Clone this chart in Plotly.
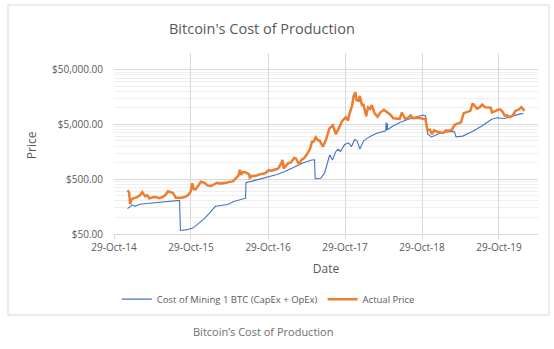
import plotly.graph_objects as go

# Actual BTC price (USD)
price_dates = [
    "2015-01-01", "2015-01-08", "2015-01-14", "2015-01-20", "2015-02-01", "2015-02-15",
    "2015-03-01", "2015-03-12", "2015-03-25", "2015-04-05", "2015-04-15", "2015-05-01",
    "2015-05-15", "2015-06-01", "2015-06-15", "2015-07-01", "2015-07-12", "2015-07-25",
    "2015-08-05", "2015-08-18", "2015-09-01", "2015-09-15", "2015-10-01", "2015-10-15",
    "2015-10-28", "2015-11-04", "2015-11-11", "2015-11-20", "2015-12-01", "2015-12-15",
    "2016-01-01", "2016-01-15", "2016-02-01", "2016-02-15", "2016-03-01", "2016-03-15",
    "2016-04-01", "2016-04-15", "2016-05-01", "2016-05-15", "2016-06-01", "2016-06-10",
    "2016-06-17", "2016-06-23", "2016-07-01", "2016-07-15", "2016-08-01", "2016-08-03",
    "2016-08-15", "2016-09-01", "2016-09-15", "2016-10-01", "2016-10-15", "2016-11-01",
    "2016-11-15", "2016-12-01", "2016-12-15", "2017-01-01", "2017-01-05", "2017-01-11",
    "2017-01-20", "2017-02-01", "2017-02-15", "2017-03-01", "2017-03-10", "2017-03-24",
    "2017-04-05", "2017-04-20", "2017-05-01", "2017-05-15", "2017-05-25", "2017-06-01",
    "2017-06-12", "2017-06-20", "2017-07-01", "2017-07-16", "2017-08-01", "2017-08-15",
    "2017-09-01", "2017-09-15", "2017-10-01", "2017-10-15", "2017-11-01", "2017-11-12",
    "2017-11-20", "2017-12-01", "2017-12-08", "2017-12-17", "2017-12-22", "2018-01-01",
    "2018-01-07", "2018-01-17", "2018-01-25", "2018-02-06", "2018-02-15", "2018-02-25",
    "2018-03-05", "2018-03-18", "2018-04-01", "2018-04-15", "2018-05-01", "2018-05-15",
    "2018-06-01", "2018-06-15", "2018-07-01", "2018-07-15", "2018-07-25", "2018-08-10",
    "2018-08-25", "2018-09-05", "2018-09-15", "2018-10-01", "2018-10-15", "2018-11-01",
    "2018-11-14", "2018-11-20", "2018-11-25", "2018-12-05", "2018-12-15", "2018-12-25",
    "2019-01-05", "2019-01-20", "2019-02-05", "2019-02-20", "2019-03-05", "2019-03-20",
    "2019-04-02", "2019-04-15", "2019-05-01", "2019-05-15", "2019-06-01", "2019-06-15",
    "2019-06-26", "2019-07-05", "2019-07-17", "2019-08-01", "2019-08-10", "2019-08-25",
    "2019-09-10", "2019-09-20", "2019-09-26", "2019-10-10", "2019-10-26", "2019-11-05",
    "2019-11-15", "2019-11-25", "2019-12-05", "2019-12-18", "2020-01-01", "2020-01-15",
    "2020-02-01", "2020-02-12", "2020-02-20", "2020-02-27",
]
price_values = [
    315, 290, 175, 215, 225, 235,
    255, 290, 245, 255, 222, 235,
    237, 225, 235, 260, 300, 285,
    280, 230, 230, 230, 238, 255,
    300, 420, 330, 325, 370, 450,
    430, 385, 375, 405, 430, 415,
    417, 430, 450, 455, 535, 580,
    740, 600, 675, 665, 610, 530,
    570, 575, 605, 615, 640, 730,
    715, 750, 780, 1000, 1120, 780,
    880, 980, 1010, 1220, 1190, 935,
    1120, 1230, 1420, 1750, 2400, 2400,
    2900, 2600, 2500, 1950, 2720, 4170,
    4800, 3300, 4400, 5700, 6750, 5900,
    8100, 10800, 16000, 19300, 13800, 13400,
    16500, 11200, 11300, 7000, 10200, 9600,
    11200, 7900, 6900, 8300, 9200, 8500,
    7500, 6450, 6400, 6300, 8200, 6300,
    6700, 7300, 6500, 6600, 6600, 6350,
    6300, 4600, 3900, 4000, 3300, 3900,
    3700, 3600, 3450, 3900, 3800, 4000,
    4900, 5150, 5400, 8000, 8500, 8800,
    12000, 11000, 9700, 10400, 11500, 10200,
    10300, 10100, 8200, 8600, 9300, 9300,
    8500, 7200, 7300, 6800, 7200, 8800,
    9400, 10300, 9600, 8800,
]

# Cost of mining one BTC, CapEx + OpEx (USD)
cost_dates = [
    "2015-01-01", "2015-01-25", "2015-02-05", "2015-03-01", "2015-04-15", "2015-06-01",
    "2015-07-15", "2015-08-20", "2015-09-05", "2015-09-09", "2015-10-10", "2015-11-07",
    "2015-12-01", "2016-01-03", "2016-01-25", "2016-02-22", "2016-03-20", "2016-04-20",
    "2016-05-20", "2016-06-20", "2016-07-14", "2016-07-16", "2016-08-20", "2016-09-20",
    "2016-10-28", "2016-12-10", "2017-01-16", "2017-02-15", "2017-03-15", "2017-04-15",
    "2017-05-24", "2017-06-06", "2017-06-09", "2017-07-05", "2017-07-24", "2017-08-08",
    "2017-08-17", "2017-08-30", "2017-09-15", "2017-09-27", "2017-10-07", "2017-10-27",
    "2017-11-15", "2017-11-28", "2017-12-13", "2017-12-25", "2018-01-07", "2018-01-25",
    "2018-02-23", "2018-03-25", "2018-04-25", "2018-05-10", "2018-05-12", "2018-05-14",
    "2018-05-17", "2018-05-19", "2018-06-10", "2018-07-15", "2018-08-25", "2018-10-03",
    "2018-11-01", "2018-11-15", "2018-11-20", "2018-11-25", "2018-12-13", "2019-01-30",
    "2019-03-15", "2019-04-01", "2019-04-08", "2019-05-10", "2019-06-25", "2019-08-07",
    "2019-09-24", "2019-10-20", "2019-11-24", "2020-01-01", "2020-02-10", "2020-02-22",
]
cost_values = [
    145, 170, 160, 175, 182, 190,
    196, 200, 205, 58, 60, 64,
    75, 97, 120, 160, 166, 172,
    195, 212, 225, 430, 465, 495,
    550, 610, 690, 790, 900, 1000,
    1120, 1130, 510, 520, 650, 1100,
    1380, 1120, 1600, 1750, 1590, 2140,
    2300, 1950, 2640, 2500, 1780, 2500,
    2980, 3400, 3650, 3800, 5400, 3900,
    5200, 4000, 4580, 5400, 6200, 6950,
    7400, 7100, 5000, 3300, 2950, 3550,
    3700, 3650, 2950, 3050, 3700, 4600,
    6200, 6600, 6400, 7000, 7850, 7800,
]

x_tick_dates = ["2014-10-29", "2015-10-29", "2016-10-29", "2017-10-29", "2018-10-29", "2019-10-29"]
x_tick_labels = ["29-Oct-14", "29-Oct-15", "29-Oct-16", "29-Oct-17", "29-Oct-18", "29-Oct-19"]
y_tick_values = [50, 500, 5000, 50000]
y_tick_labels = ["$50.00", "$500.00", "$5,000.00", "$50,000.00"]

FONT = "Open Sans"
TEXT_GREY = "#595959"
GRID = "#D9D9D9"
MINOR_GRID = "#EFEFEF"

# log-scale minor gridlines at 2x..9x of each major step
minor_grid_values = [m * base for base in y_tick_values for m in range(2, 10)]

fig = go.Figure()
fig.add_trace(go.Scatter(
    x=cost_dates, y=cost_values, mode="lines",
    name="Cost of Mining 1 BTC (CapEx + OpEx)",
    line=dict(color="#4472C4", width=1.1),
))
fig.add_trace(go.Scatter(
    x=price_dates, y=price_values, mode="lines",
    name="Actual Price",
    line=dict(color="#ED7D31", width=2.5),
))

fig.update_layout(
    width=554, height=349,
    margin=dict(l=114, r=16, t=53, b=115),
    paper_bgcolor="white", plot_bgcolor="white",
    font=dict(family=FONT, color=TEXT_GREY, size=10),
    showlegend=True,
    legend=dict(
        orientation="h", x=0.364, xanchor="center", y=-0.36, yanchor="middle",
        font=dict(family=FONT, size=9.5, color=TEXT_GREY),
        bgcolor="rgba(0,0,0,0)", itemwidth=30,
    ),
    xaxis=dict(
        type="date", range=["2014-10-29", "2020-05-01"],
        tickvals=x_tick_dates, ticktext=x_tick_labels,
        showgrid=True, gridcolor=GRID, gridwidth=1,
        showline=True, linecolor=GRID, linewidth=1,
        ticks="outside", ticklen=4, tickcolor=GRID,
        tickfont=dict(family=FONT, size=10, color=TEXT_GREY),
        title=dict(text="Date", font=dict(family=FONT, size=12, color=TEXT_GREY), standoff=11),
        zeroline=False,
    ),
    yaxis=dict(
        type="log", range=[1.69897, 5.0],
        tickvals=y_tick_values, ticktext=y_tick_labels,
        showgrid=True, gridcolor=GRID, gridwidth=1,
        minor=dict(tickvals=minor_grid_values, showgrid=True, gridcolor=MINOR_GRID, ticks=""),
        showline=False, ticks="", ticklabelstandoff=10,
        tickfont=dict(family=FONT, size=10, color=TEXT_GREY),
        zeroline=False,
    ),
    annotations=[
        dict(text="Bitcoin's Cost of Production", xref="paper", yref="paper",
             x=0.349, y=1.138, xanchor="center", yanchor="middle", showarrow=False,
             font=dict(family=FONT, size=14.5, color=TEXT_GREY)),
        dict(text="Price", xref="paper", yref="paper", textangle=-90,
             x=-0.196, y=0.49, xanchor="center", yanchor="middle", showarrow=False,
             font=dict(family=FONT, size=12, color=TEXT_GREY)),
        dict(text="Bitcoin’s Cost of Production", xref="paper", yref="paper",
             x=0.351, y=-0.536, xanchor="center", yanchor="middle", showarrow=False,
             font=dict(family=FONT, size=11, color="#6E6E6E")),
    ],
    shapes=[
        dict(type="rect", xref="paper", yref="paper",
             x0=-0.25, x1=1.026, y0=-0.4475, y1=1.265,
             line=dict(color="#D9D9D9", width=1), layer="below"),
    ],
)

fig.write_html("out.html")
